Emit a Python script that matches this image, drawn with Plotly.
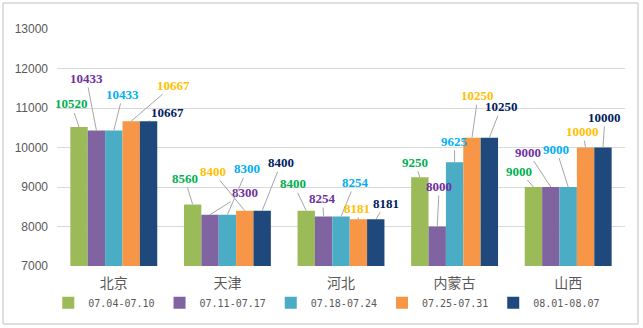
import plotly.graph_objects as go

categories = ["北京", "天津", "河北", "内蒙古", "山西"]
series_names = ["07.04-07.10", "07.11-07.17", "07.18-07.24", "07.25-07.31", "08.01-08.07"]
s1 = [10520, 8560, 8400, 9250, 9000]
s2 = [10433, 8300, 8254, 8000, 9000]
s3 = [10433, 8300, 8254, 9625, 9000]
s4 = [10667, 8400, 8181, 10250, 10000]
s5 = [10667, 8400, 8181, 10250, 10000]
y_ticks = [7000, 8000, 9000, 10000, 11000, 12000, 13000]

series = [s1, s2, s3, s4, s5]
bar_colors = ["#9BBB59", "#8064A2", "#4BACC6", "#F79646", "#1F497D"]
label_colors = ["#00B050", "#7030A0", "#00B0F0", "#FFC000", "#002060"]

# label offsets (pixels) per series, per category
label_ax = [
    [-8, -8, -13, -5, -14],
    [-10, 35, -1, 2, -23],
    [9, 20, 14, 0, -12],
    [42, -32, -1, 6, -3],
    [19, 19, 10, 12, 2],
]
label_ay = [
    [-23, -26, -27, -15, -16],
    [-52, -22, -18, -40, -35],
    [-36, -46, -34, -21, -38],
    [-36, -39, -11, -42, -16],
    [-9, -48, -16, -31, -30],
]

n = len(series)
bargap = 0.235
bw = (1 - bargap) / n
xs = list(range(len(categories)))

fig = go.Figure()
for j, (name, vals) in enumerate(zip(series_names, series)):
    fig.add_trace(go.Bar(x=xs, y=vals, name=name, marker_color=bar_colors[j],
                         marker_line_width=0, hoverinfo="y"))

annotations = []
for j, vals in enumerate(series):
    for i, v in enumerate(vals):
        annotations.append(dict(
            x=i + (j - (n - 1) / 2) * bw, y=v, xref="x", yref="y",
            text="<b>%d</b>" % v, showarrow=True, arrowhead=0, arrowwidth=1,
            arrowcolor="#A6A6A6", ax=label_ax[j][i], ay=label_ay[j][i],
            standoff=0, startstandoff=0,
            font=dict(family="Liberation Serif", size=13, color=label_colors[j]),
        ))

fig.update_layout(
    width=643, height=328,
    margin=dict(l=57, r=18, t=29, b=62, autoexpand=False),
    paper_bgcolor="white", plot_bgcolor="white",
    barmode="group", bargap=bargap, bargroupgap=0,
    annotations=annotations,
    showlegend=True,
    legend=dict(orientation="h", x=0.475, xanchor="center", y=-0.155, yanchor="middle",
                bgcolor="rgba(0,0,0,0)",
                font=dict(family="DejaVu Sans Mono", size=10, color="#595959"),
                itemwidth=30, traceorder="normal"),
    xaxis=dict(tickmode="array", tickvals=xs, ticktext=categories, range=[-0.5, 4.5],
               showgrid=False, zeroline=False, showline=False, ticks="",
               ticklabelstandoff=7,
               tickfont=dict(family="Noto Sans CJK SC", size=14, color="#595959")),
    yaxis=dict(range=[7000, 13000], tickvals=y_ticks, tickformat="d", showgrid=True,
               gridcolor="#D9D9D9", gridwidth=1, zeroline=False, showline=False,
               ticks="", ticklabelstandoff=8,
               tickfont=dict(family="Liberation Sans", size=12, color="#595959")),
    shapes=[dict(type="rect", xref="paper", yref="paper",
                 x0=-54 / 568, x1=1 + 13 / 568, y0=-58 / 237, y1=1 + 26 / 237,
                 line=dict(color="#BFBFBF", width=1))],
)

fig.write_html("out.html")
